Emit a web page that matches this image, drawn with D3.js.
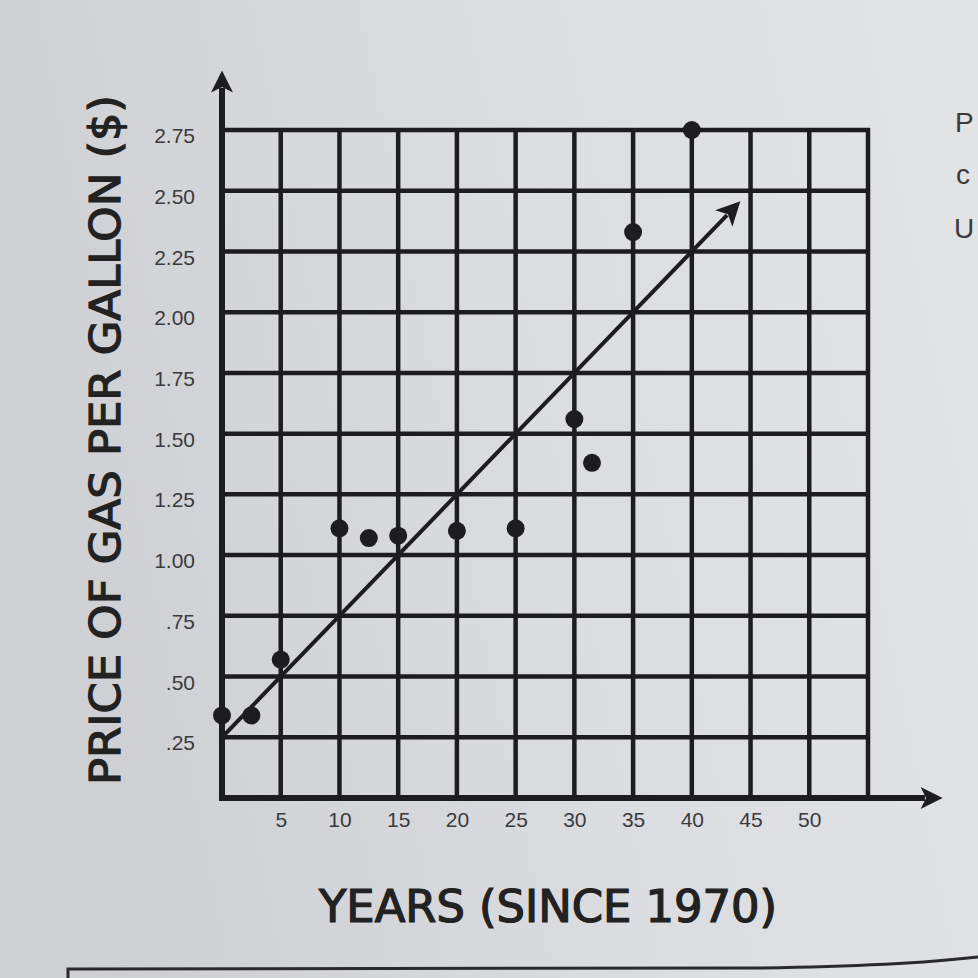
<!DOCTYPE html>
<html>
<head>
<meta charset="utf-8">
<script src="https://cdn.jsdelivr.net/npm/d3@7"></script>
<style>
  html, body { margin: 0; padding: 0; }
  body { width: 978px; height: 978px; overflow: hidden; }
  svg { display: block; }
</style>
</head>
<body>
<svg width="978" height="978"></svg>
<script>
// price of gas per gallon
var years  = [0, 2.5, 5, 10, 12.5, 15, 20, 25, 30, 31.5, 35, 40];
var prices = [0.34, 0.34, 0.57, 1.11, 1.07, 1.08, 1.10, 1.11, 1.56, 1.38, 2.33, 2.75];

// line of best fit drawn on the sheet (start, end)
var fitYears  = [0, 43];
var fitPrices = [0.25, 2.40];

var xTicks = [5, 10, 15, 20, 25, 30, 35, 40, 45, 50];
var xTickLabels = ["5", "10", "15", "20", "25", "30", "35", "40", "45", "50"];
var yTicks = [0.25, 0.5, 0.75, 1, 1.25, 1.5, 1.75, 2, 2.25, 2.5, 2.75];
var yTickLabels = [".25", ".50", ".75", "1.00", "1.25", "1.50", "1.75", "2.00", "2.25", "2.50", "2.75"];

var xGrid = [5, 10, 15, 20, 25, 30, 35, 40, 45, 50, 55];
var yGrid = [0.25, 0.5, 0.75, 1, 1.25, 1.5, 1.75, 2, 2.25, 2.5, 2.75];

var ink = "#1d1d1f";

var svg = d3.select("svg");

// paper background
var defs = svg.append("defs");
var grad = defs.append("linearGradient")
  .attr("id", "paper")
  .attr("x1", 0).attr("y1", 0.2).attr("x2", 1).attr("y2", 0);
grad.append("stop").attr("offset", "0%").attr("stop-color", "#cfd0d3");
grad.append("stop").attr("offset", "50%").attr("stop-color", "#dcdde0");
grad.append("stop").attr("offset", "100%").attr("stop-color", "#e3e4e6");
svg.append("rect").attr("width", 978).attr("height", 978).attr("fill", "url(#paper)");

// arrow heads
function marker(id, w, h) {
  defs.append("marker")
    .attr("id", id)
    .attr("viewBox", "0 0 10 10")
    .attr("refX", 2).attr("refY", 5)
    .attr("markerUnits", "userSpaceOnUse")
    .attr("markerWidth", w).attr("markerHeight", h)
    .attr("orient", "auto")
    .append("path")
    .attr("d", "M0,0 L10,5 L0,10 L2.5,5 Z")
    .attr("fill", ink);
}
marker("axisArrow", 24, 22);
marker("fitArrow", 28, 24);

var x = d3.scaleLinear().domain([0, 55]).range([222, 868]);
var y = d3.scaleLinear().domain([0, 2.75]).range([798, 130]);

// grid
var grid = svg.append("g").attr("stroke", ink).attr("stroke-width", 4.5);
grid.selectAll(".vgrid")
  .data(xGrid)
  .enter().append("line")
  .attr("class", "vgrid")
  .attr("x1", function(d){ return x(d); })
  .attr("x2", function(d){ return x(d); })
  .attr("y1", y(0))
  .attr("y2", y(2.75) - 2);
grid.selectAll(".hgrid")
  .data(yGrid)
  .enter().append("line")
  .attr("class", "hgrid")
  .attr("x1", x(0))
  .attr("x2", x(55) + 2)
  .attr("y1", function(d){ return y(d); })
  .attr("y2", function(d){ return y(d); });

// axes with arrows
svg.append("line")
  .attr("x1", x(0)).attr("y1", y(0) + 3)
  .attr("x2", x(0)).attr("y2", 88)
  .attr("stroke", ink).attr("stroke-width", 6)
  .attr("marker-end", "url(#axisArrow)");
svg.append("line")
  .attr("x1", x(0) - 3).attr("y1", y(0))
  .attr("x2", 925).attr("y2", y(0))
  .attr("stroke", ink).attr("stroke-width", 6)
  .attr("marker-end", "url(#axisArrow)");

// tick labels
var xAxis = svg.append("g")
  .attr("transform", "translate(0," + (y(0) + 8) + ")")
  .call(d3.axisBottom(x).tickValues(xTicks).tickSize(0)
    .tickFormat(function(d, i){ return xTickLabels[i]; }));
xAxis.select(".domain").remove();
xAxis.selectAll("text")
  .attr("font-family", "'Liberation Sans', Arial, sans-serif")
  .attr("font-size", 21)
  .attr("fill", "#3a3a3c")
  .attr("dy", "0.85em");

var yAxis = svg.append("g")
  .attr("transform", "translate(" + (x(0) - 24) + ",0)")
  .call(d3.axisLeft(y).tickValues(yTicks).tickSize(0)
    .tickFormat(function(d, i){ return yTickLabels[i]; }));
yAxis.select(".domain").remove();
yAxis.selectAll("text")
  .attr("font-family", "'Liberation Sans', Arial, sans-serif")
  .attr("font-size", 21)
  .attr("fill", "#3a3a3c")
  .attr("dy", "0.6em");

// line of fit
var fitLine = d3.line()
  .x(function(d){ return x(d[0]); })
  .y(function(d){ return y(d[1]); });
svg.append("path")
  .datum(d3.zip(fitYears, fitPrices))
  .attr("d", fitLine)
  .attr("fill", "none")
  .attr("stroke", ink)
  .attr("stroke-width", 4)
  .attr("marker-end", "url(#fitArrow)");

// points
svg.selectAll(".dot")
  .data(d3.zip(years, prices))
  .enter().append("circle")
  .attr("class", "dot")
  .attr("cx", function(d){ return x(d[0]); })
  .attr("cy", function(d){ return y(d[1]); })
  .attr("r", 9)
  .attr("fill", ink);

// axis titles
svg.append("text")
  .attr("x", 548).attr("y", 922)
  .attr("text-anchor", "middle")
  .attr("font-family", "'DejaVu Sans Condensed', 'DejaVu Sans', sans-serif")
  .attr("font-size", 44)
  .attr("fill", "#222")
  .attr("stroke", "#222")
  .attr("stroke-width", 1.2)
  .attr("textLength", 458)
  .attr("lengthAdjust", "spacingAndGlyphs")
  .text("YEARS (SINCE 1970)");

svg.append("text")
  .attr("transform", "translate(120,440) rotate(-90)")
  .attr("text-anchor", "middle")
  .attr("font-family", "'DejaVu Sans Condensed', 'DejaVu Sans', sans-serif")
  .attr("font-size", 42)
  .attr("fill", "#222")
  .attr("stroke", "#222")
  .attr("stroke-width", 1.2)
  .attr("textLength", 690)
  .attr("lengthAdjust", "spacingAndGlyphs")
  .text("PRICE OF GAS PER GALLON ($)");

// cut-off text at the right edge of the page
var side = svg.append("g")
  .attr("font-family", "'Liberation Sans', Arial, sans-serif")
  .attr("font-size", 28)
  .attr("fill", "#3a3a3c");
side.append("text").attr("x", 955).attr("y", 132).text("P");
side.append("text").attr("x", 956).attr("y", 184).text("c");
side.append("text").attr("x", 954).attr("y", 238).text("U");

// box edge at the bottom of the page
svg.append("path")
  .attr("d", "M68,980 L68,969 L760,968 Q900,966 978,957")
  .attr("fill", "none")
  .attr("stroke", "#2a2a2c")
  .attr("stroke-width", 3);
</script>
</body>
</html>
